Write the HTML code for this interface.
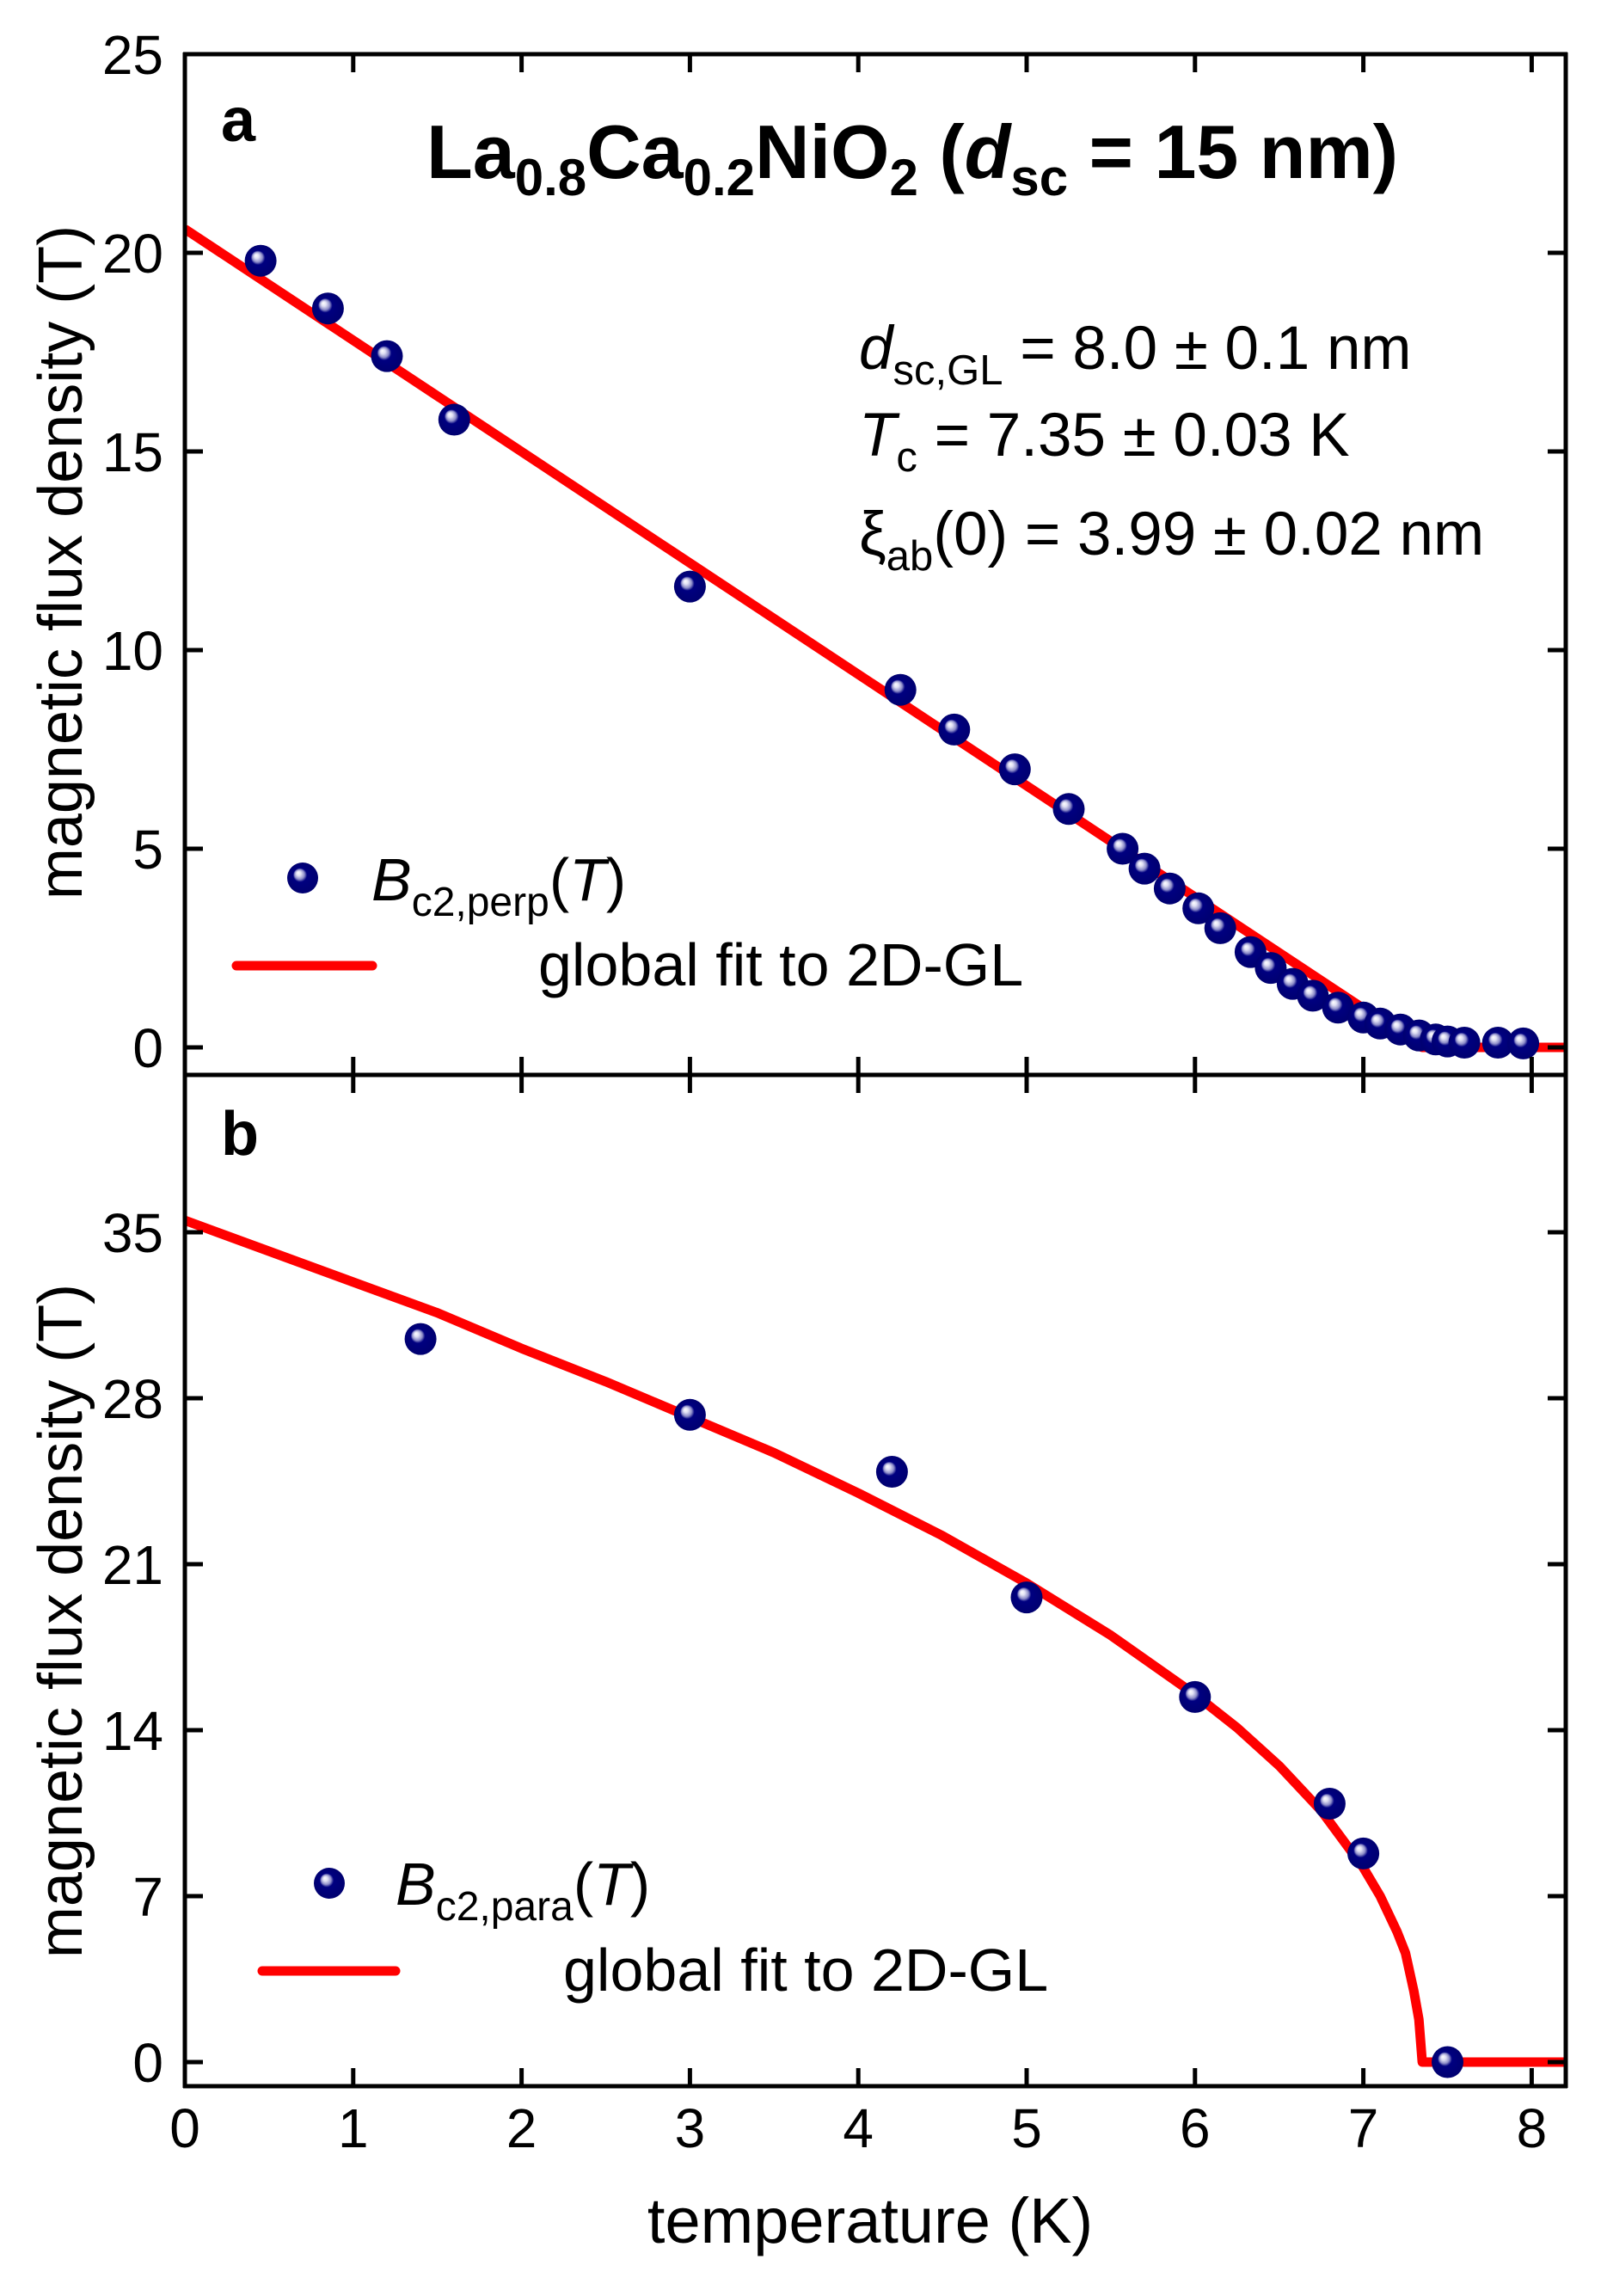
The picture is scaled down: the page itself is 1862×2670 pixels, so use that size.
<!DOCTYPE html>
<html><head><meta charset="utf-8"><style>
html,body{margin:0;padding:0;background:#fff;}
svg{display:block;font-family:"Liberation Sans",Arial,sans-serif;}
</style></head><body>
<svg id="chart" width="1862" height="2670" viewBox="0 0 1862 2670" xmlns="http://www.w3.org/2000/svg">
<defs>
<radialGradient id="ball" cx="0.5" cy="0.5" r="0.5" fx="0.35" fy="0.33">
<stop offset="0" stop-color="#ffffff"/>
<stop offset="0.15" stop-color="#e0e0f4"/>
<stop offset="0.32" stop-color="#8c8cc8"/>
<stop offset="0.45" stop-color="#000080"/>
<stop offset="1" stop-color="#000070"/>
</radialGradient>
</defs>
<g id="panelA"></g>
<g id="panelB"></g>
<g id="frame"></g>

<text x="257" y="164" font-size="72" font-weight="bold">a</text>
<text x="257" y="1343" font-size="72" font-weight="bold">b</text>
<text x="496" y="207" font-size="88" font-weight="bold">La<tspan font-size="60" dy="20">0.8</tspan><tspan dy="-20">Ca</tspan><tspan font-size="60" dy="20">0.2</tspan><tspan dy="-20">NiO</tspan><tspan font-size="60" dy="20">2</tspan><tspan dy="-20"> (</tspan><tspan font-style="italic">d</tspan><tspan font-size="60" dy="20">sc</tspan><tspan dy="-20"> = 15 nm)</tspan></text>

<text x="999" y="429" font-size="71"><tspan font-style="italic">d</tspan><tspan font-size="49" dy="18">sc,GL</tspan><tspan dy="-18"> = 8.0 ± 0.1 nm</tspan></text>
<text x="999" y="530" font-size="71"><tspan font-style="italic">T</tspan><tspan font-size="49" dy="18">c</tspan><tspan dy="-18"> = 7.35 ± 0.03 K</tspan></text>
<text x="999" y="645" font-size="71">ξ<tspan font-size="49" dy="18">ab</tspan><tspan dy="-18">(0) = 3.99 ± 0.02 nm</tspan></text>

<g>
<circle cx="352" cy="1021" r="18" fill="url(#ball)"/>
<text x="432" y="1047" font-size="70"><tspan font-style="italic">B</tspan><tspan font-size="48" dy="18">c2,perp</tspan><tspan dy="-18">(</tspan><tspan font-style="italic">T</tspan>)</text>
<line x1="275" y1="1123" x2="433" y2="1123" stroke="#ff0000" stroke-width="11" stroke-linecap="round"/>
<text x="626" y="1146" font-size="70">global fit to 2D-GL</text>
</g>
<g>
<circle cx="383" cy="2190" r="18" fill="url(#ball)"/>
<text x="460" y="2215" font-size="70"><tspan font-style="italic">B</tspan><tspan font-size="48" dy="18">c2,para</tspan><tspan dy="-18">(</tspan><tspan font-style="italic">T</tspan>)</text>
<line x1="305" y1="2292" x2="460" y2="2292" stroke="#ff0000" stroke-width="11" stroke-linecap="round"/>
<text x="655" y="2315" font-size="70">global fit to 2D-GL</text>
</g>

<text x="1012" y="2608" font-size="74" text-anchor="middle">temperature (K)</text>
<text x="0" y="0" font-size="72" text-anchor="middle" transform="translate(95,654) rotate(-90)">magnetic flux density (T)</text>
<text x="0" y="0" font-size="72" text-anchor="middle" transform="translate(95,1885) rotate(-90)">magnetic flux density (T)</text>
</svg>
<script>
// ---- data ----
const perpT = [0.45,0.85,1.2,1.6,3.0,4.25,4.57,4.93,5.25,5.57,5.7,5.85,6.02,6.15,6.33,6.45,6.58,6.7,6.85,7.0,7.1,7.22,7.33,7.43,7.5,7.6,7.8,7.95];
const perpB = [19.8,18.6,17.4,15.8,11.6,9.0,8.0,7.0,6.0,5.0,4.5,4.0,3.5,3.0,2.4,2.0,1.6,1.3,1.0,0.75,0.6,0.45,0.3,0.2,0.15,0.12,0.12,0.1];
const fitAT = [0,7.35,8.2];
const fitAB = [20.6,0,0];
const paraT = [1.4,3.0,4.2,5.0,6.0,6.8,7.0,7.5];
const paraB = [30.5,27.3,24.9,19.6,15.4,10.9,8.8,0.0];
const fitBT = [0,0.5,1,1.5,2,2.5,3,3.5,4,4.5,5,5.5,6,6.25,6.5,6.75,7.0,7.1,7.2,7.25,7.3,7.33,7.35,8.2];
const fitBB = [35.5,34.2,32.9,31.6,30.1,28.7,27.2,25.7,24.0,22.2,20.2,18.0,15.5,14.1,12.5,10.6,8.2,7.0,5.5,4.6,3.0,1.8,0,0];
const xTicks = [0,1,2,3,4,5,6,7,8];
const yTicksA = [0,5,10,15,20,25];
const yTicksB = [0,7,14,21,28,35];

// ---- geometry ----
const L=215, R=1821, TOP=63, MID=1250, BOT=2426;
const sx = t => L + t*195.8;
const syA = v => 1218 - v*46.2;
const syB = v => 2398 - v*(965/35);
const NS="http://www.w3.org/2000/svg";
function mk(tag, attrs, parent){const e=document.createElementNS(NS,tag);for(const k in attrs)e.setAttribute(k,attrs[k]);parent.appendChild(e);return e;}
const A=document.getElementById('panelA'), B=document.getElementById('panelB'), F=document.getElementById('frame');

const cpA=mk('clipPath',{id:'clipA'},A); mk('rect',{x:L,y:TOP,width:R-L,height:MID-TOP},cpA);
const cpB=mk('clipPath',{id:'clipB'},B); mk('rect',{x:L,y:MID,width:R-L,height:BOT-MID},cpB);

function fitLine(parent,T,V,sy,clip,name){
  const d=T.map((t,i)=>(i?'L':'M')+sx(t).toFixed(1)+','+sy(V[i]).toFixed(1)).join(' ');
  const p=mk('path',{d:d,fill:'none',stroke:'#ff0000','stroke-width':11,'stroke-linejoin':'round','clip-path':'url(#'+clip+')'},parent);
  
  
}
function points(parent,T,V,sy,name){
  T.forEach((t,i)=>{
    const c=mk('circle',{cx:sx(t).toFixed(1),cy:sy(V[i]).toFixed(1),r:18.5,fill:'url(#ball)'},parent);
    
    
  });
}
fitLine(A,fitAT,fitAB,syA,'clipA','fit-line-perp');
points(A,perpT,perpB,syA,'data-point-perp');
fitLine(B,fitBT,fitBB,syB,'clipB','fit-line-para');
points(B,paraT,paraB,syB,'data-point-para');

const TL=21, SW=5;
function ln(x1,y1,x2,y2,name){const e=mk('line',{x1,y1,x2,y2,stroke:'#000','stroke-width':SW},F);
  
  }
ln(L,TOP-2,L,BOT+2,'y-axis-left');
ln(R,TOP-2,R,BOT+2,'y-axis-right');
ln(L-2,TOP,R+2,TOP,'top-axis');
ln(L-2,MID,R+2,MID,'panel-divider');
ln(L-2,BOT,R+2,BOT,'x-axis');
xTicks.forEach(t=>{
  const x=sx(t);
  ln(x,TOP,x,TOP+TL,'x-tick-top');
  ln(x,MID-TL,x,MID+TL,'x-tick-mid');
  ln(x,BOT,x,BOT-TL,'x-tick-bottom');
  const tx=mk('text',{x:x,y:2497,'font-size':64,'text-anchor':'middle'},F);
  tx.textContent=t;
  
  
});
function yt(ticks,sy,name){
  ticks.forEach(v=>{
    const y=sy(v);
    ln(L,y,L+TL,y,name+'-tick-left');
    ln(R,y,R-TL,y,name+'-tick-right');
    const tx=mk('text',{x:190,y:y+23,'font-size':64,'text-anchor':'end'},F);
    tx.textContent=v;
    
    
  });
}
yt(yTicksA,syA,'y-a');
yt(yTicksB,syB,'y-b');
</script>
</body></html>
